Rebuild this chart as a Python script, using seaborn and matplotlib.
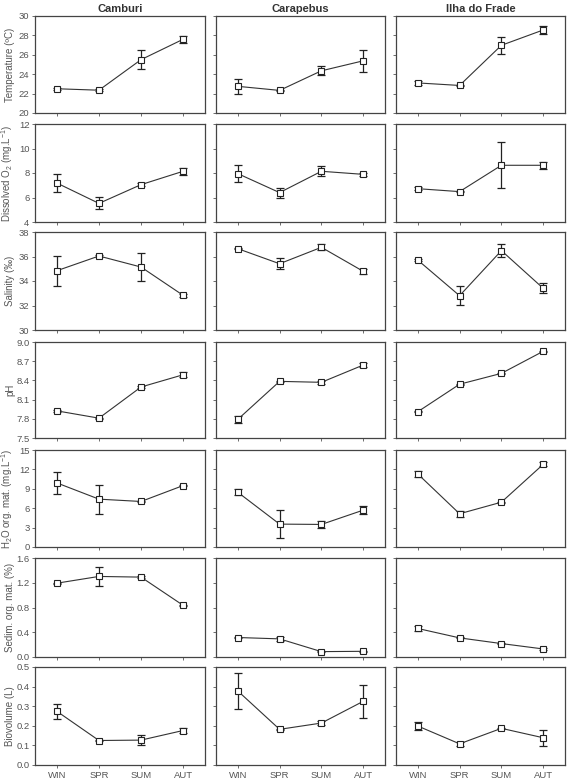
import matplotlib
matplotlib.use("Agg")
import matplotlib.pyplot as plt
import pandas as pd
import numpy as np
import seaborn as sns

seasons = ["WIN", "SPR", "SUM", "AUT"]
sites = ["Camburi", "Carapebus", "Ilha do Frade"]

# mean values per site (WIN, SPR, SUM, AUT) and error half-widths
temp = {"Camburi": [22.5, 22.35, 25.5, 27.6],
        "Carapebus": [22.75, 22.33, 24.35, 25.38],
        "Ilha do Frade": [23.1, 22.84, 26.98, 28.56]}
temp_err = {"Camburi": [0.08, 0.08, 1.0, 0.38],
            "Carapebus": [0.75, 0.08, 0.48, 1.15],
            "Ilha do Frade": [0.25, 0.05, 0.9, 0.45]}

oxy = {"Camburi": [7.18, 5.52, 7.05, 8.14],
       "Carapebus": [7.95, 6.4, 8.14, 7.89],
       "Ilha do Frade": [6.72, 6.48, 8.63, 8.63]}
oxy_err = {"Camburi": [0.75, 0.49, 0.1, 0.3],
           "Carapebus": [0.68, 0.41, 0.42, 0.1],
           "Ilha do Frade": [0.1, 0.05, 1.88, 0.28]}

sal = {"Camburi": [34.84, 36.04, 35.14, 32.83],
       "Carapebus": [36.64, 35.41, 36.75, 34.79],
       "Ilha do Frade": [35.71, 32.8, 36.48, 33.4]}
sal_err = {"Camburi": [1.22, 0.08, 1.14, 0.1],
           "Carapebus": [0.05, 0.45, 0.25, 0.23],
           "Ilha do Frade": [0.1, 0.78, 0.52, 0.4]}

ph = {"Camburi": [7.924, 7.81, 8.297, 8.488],
      "Carapebus": [7.79, 8.385, 8.37, 8.64],
      "Ilha do Frade": [7.91, 8.34, 8.51, 8.855]}
ph_err = {"Camburi": [0.01, 0.01, 0.01, 0.04],
          "Carapebus": [0.06, 0.01, 0.02, 0.03],
          "Ilha do Frade": [0.01, 0.01, 0.01, 0.01]}

h2o = {"Camburi": [9.91, 7.4, 7.04, 9.5],
       "Carapebus": [8.47, 3.54, 3.49, 5.7],
       "Ilha do Frade": [11.3, 5.14, 6.93, 12.79]}
h2o_err = {"Camburi": [1.65, 2.25, 0.1, 0.1],
           "Carapebus": [0.5, 2.2, 0.5, 0.67],
           "Ilha do Frade": [0.45, 0.5, 0.1, 0.28]}

sed = {"Camburi": [1.193, 1.302, 1.291, 0.835],
       "Carapebus": [0.315, 0.293, 0.087, 0.092],
       "Ilha do Frade": [0.461, 0.309, 0.217, 0.13]}
sed_err = {"Camburi": [0.01, 0.15, 0.02, 0.01],
           "Carapebus": [0.01, 0.035, 0.01, 0.01],
           "Ilha do Frade": [0.033, 0.01, 0.01, 0.01]}

bio = {"Camburi": [0.274, 0.125, 0.127, 0.176],
       "Carapebus": [0.378, 0.182, 0.214, 0.325],
       "Ilha do Frade": [0.199, 0.108, 0.187, 0.139]}
bio_err = {"Camburi": [0.037, 0.005, 0.026, 0.013],
           "Carapebus": [0.092, 0.004, 0.01, 0.084],
           "Ilha do Frade": [0.018, 0.009, 0.004, 0.041]}

variables = [
    ("Temperature (ºC)", temp, temp_err, (20, 30), [20, 22, 24, 26, 28, 30], "%d"),
    (r"Dissolved O$_2$ (mg.L$^{-1}$)", oxy, oxy_err, (4, 12), [4, 6, 8, 10, 12], "%d"),
    ("Salinity (‰)", sal, sal_err, (30, 38), [30, 32, 34, 36, 38], "%d"),
    ("pH", ph, ph_err, (7.5, 9.0), [7.5, 7.8, 8.1, 8.4, 8.7, 9.0], "%.1f"),
    (r"H$_2$O org. mat. (mg.L$^{-1}$)", h2o, h2o_err, (0, 15), [0, 3, 6, 9, 12, 15], "%d"),
    ("Sedim. org. mat. (%)", sed, sed_err, (0, 1.6), [0.0, 0.4, 0.8, 1.2, 1.6], "%.1f"),
    ("Biovolume (L)", bio, bio_err, (0, 0.5), [0.0, 0.1, 0.2, 0.3, 0.4, 0.5], "%.1f"),
]

sns.set_style("white")
plt.rcParams["font.family"] = ["Liberation Sans", "DejaVu Sans"]
plt.rcParams["mathtext.fontset"] = "custom"
plt.rcParams["mathtext.rm"] = "Liberation Sans"
plt.rcParams["mathtext.it"] = "Liberation Sans:italic"
plt.rcParams["mathtext.default"] = "rm"

W, H = 570, 779
fig = plt.figure(figsize=(W / 100, H / 100), dpi=100)

col_x = [(35, 205), (216, 385), (396, 565)]
row_y = [(16, 113), (124, 222), (232, 330), (342, 438), (450, 547), (558, 657), (667, 765)]
grey = "#555555"

for r, (label, vals, errs, ylim, yticks, fmt) in enumerate(variables):
    for c, site in enumerate(sites):
        x0, x1 = col_x[c]
        y0, y1 = row_y[r]
        ax = fig.add_axes([x0 / W, 1 - y1 / H, (x1 - x0) / W, (y1 - y0) / H])
        df = pd.DataFrame({"pos": np.arange(4), "mean": vals[site], "err": errs[site]})
        ax.errorbar(df["pos"], df["mean"], yerr=df["err"], fmt="none",
                    ecolor="#222222", elinewidth=0.9, capsize=2.6, capthick=0.9, zorder=2)
        sns.lineplot(data=df, x="pos", y="mean", ax=ax, color="#333333", lw=0.8,
                     marker="s", markersize=4, markerfacecolor="white",
                     markeredgecolor="#222222", markeredgewidth=0.8, zorder=3)
        ax.set_xlim(-0.52, 3.52)
        ax.set_ylim(*ylim)
        ax.set_yticks(yticks)
        ax.set_xticks(range(4))
        ax.tick_params(axis="both", direction="out", length=2.5, width=0.6,
                       color=grey, labelsize=6.8, labelcolor=grey, pad=1.5,
                       left=True, bottom=True)
        for s in ax.spines.values():
            s.set_color("#444444")
            s.set_linewidth(0.9)
        ax.set_xlabel("")
        if c == 0:
            ax.set_yticklabels([fmt % t for t in yticks])
            ax.set_ylabel(label, fontsize=7, color=grey)
            ax.yaxis.set_label_coords(-0.115, 0.5)
        else:
            ax.set_yticklabels([])
            ax.set_ylabel("")
        if r == len(variables) - 1:
            ax.set_xticklabels(seasons)
        else:
            ax.set_xticklabels([])
        if r == 0:
            ax.set_title(site, fontsize=8, fontweight="bold", color="#333333", pad=3)

fig.savefig("out.png", dpi=100)
